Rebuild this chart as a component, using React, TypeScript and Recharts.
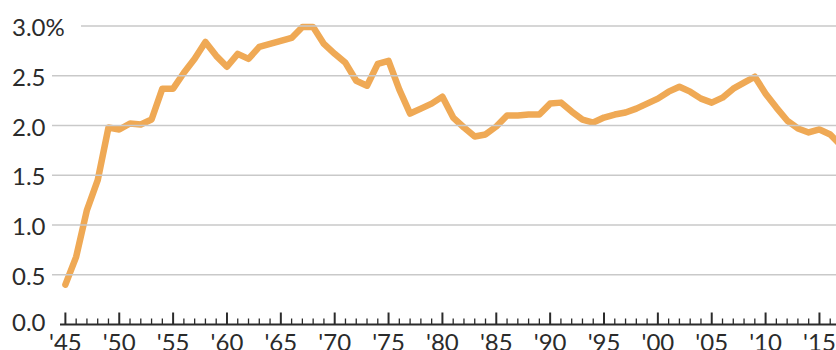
import { LineChart, Line, XAxis, YAxis } from 'recharts';

const years = [
  1945, 1946, 1947, 1948, 1949, 1950, 1951, 1952, 1953, 1954,
  1955, 1956, 1957, 1958, 1959, 1960, 1961, 1962, 1963, 1964,
  1965, 1966, 1967, 1968, 1969, 1970, 1971, 1972, 1973, 1974,
  1975, 1976, 1977, 1978, 1979, 1980, 1981, 1982, 1983, 1984,
  1985, 1986, 1987, 1988, 1989, 1990, 1991, 1992, 1993, 1994,
  1995, 1996, 1997, 1998, 1999, 2000, 2001, 2002, 2003, 2004,
  2005, 2006, 2007, 2008, 2009, 2010, 2011, 2012, 2013, 2014,
  2015, 2016, 2017,
];

const rates = [
  0.40, 0.68, 1.15, 1.45, 1.98, 1.96, 2.02, 2.01, 2.06, 2.37,
  2.37, 2.53, 2.67, 2.84, 2.70, 2.59, 2.72, 2.67, 2.79, 2.82,
  2.85, 2.88, 2.99, 2.99, 2.82, 2.72, 2.63, 2.45, 2.40, 2.62,
  2.65, 2.36, 2.12, 2.17, 2.22, 2.29, 2.08, 1.98, 1.89, 1.91,
  1.99, 2.10, 2.10, 2.11, 2.11, 2.22, 2.23, 2.14, 2.06, 2.03,
  2.08, 2.11, 2.13, 2.17, 2.22, 2.27, 2.34, 2.39, 2.34, 2.27,
  2.23, 2.28, 2.37, 2.43, 2.49, 2.32, 2.18, 2.05, 1.97, 1.93,
  1.96, 1.91, 1.80,
];

// one tick per year, labels every fifth year
const tickYears = years.filter((y) => y <= 2016);
const labelYears = [1945, 1950, 1955, 1960, 1965, 1970, 1975, 1980, 1985, 1990, 1995, 2000, 2005, 2010, 2015];
const labelText = ["'45", "'50", "'55", "'60", "'65", "'70", "'75", "'80", "'85", "'90", "'95", "'00", "'05", "'10", "'15"];

const valueTicks = [0, 0.5, 1, 1.5, 2, 2.5, 3];
const valueText = ['0.0', '0.5', '1.0', '1.5', '2.0', '2.5', '3.0%'];

const data = years.map((year, i) => ({ year, rate: rates[i] }));

const FONT = 'Lato, "Open Sans", sans-serif';
const INK = '#2b2b2b';
const CHART_W = 841;

function YearTick(props: any) {
  const { x, y, payload } = props;
  const idx = labelYears.indexOf(payload.value);
  const major = idx >= 0;
  return (
    <g>
      <line x1={x} x2={x} y1={y} y2={y - (major ? 12 : 6)} stroke={INK} strokeWidth={major ? 2 : 1.3} />
      {major && (
        <text x={x} y={y + 26} textAnchor="middle" fontFamily={FONT} fontSize={24} fill={INK}>
          {labelText[idx]}
        </text>
      )}
    </g>
  );
}

function ValueTick(props: any) {
  const { x, y, payload } = props;
  const idx = valueTicks.indexOf(payload.value);
  const top = payload.value === 3;
  const isZero = payload.value === 0;
  return (
    <g>
      {!isZero && (
        <line x1={top ? x + 21 : x - 8} x2={CHART_W} y1={y} y2={y} stroke="#c9c9c9" strokeWidth={1.5} />
      )}
      <text x={x - 48} y={y + (isZero ? 6 : 10)} textAnchor="start" fontFamily={FONT} fontSize={24} fill={INK}>
        {valueText[idx]}
      </text>
    </g>
  );
}

export default function App() {
  return (
    <div style={{ width: 836, height: 350, overflow: 'hidden', background: '#fff' }}>
      <style>{'body{margin:0}'}</style>
      <LineChart width={CHART_W} height={350} data={data} margin={{ top: 26, right: 0, bottom: 0, left: 0 }}>
        <YAxis
          type="number"
          domain={[0, 3]}
          ticks={valueTicks}
          interval={0}
          width={60}
          axisLine={false}
          tickLine={false}
          tickSize={0}
          tickMargin={0}
          tick={(p: any) => <ValueTick {...p} />}
        />
        <XAxis
          dataKey="year"
          type="number"
          domain={[1944.5, 2017]}
          ticks={tickYears}
          interval={0}
          height={25.5}
          tickLine={false}
          tickSize={0}
          tickMargin={0}
          axisLine={{ stroke: INK, strokeWidth: 2 }}
          tick={(p: any) => <YearTick {...p} />}
        />
        <Line
          type="linear"
          dataKey="rate"
          stroke="#efa955"
          strokeWidth={6.5}
          strokeLinejoin="round"
          strokeLinecap="round"
          dot={false}
          isAnimationActive={false}
        />
      </LineChart>
    </div>
  );
}
